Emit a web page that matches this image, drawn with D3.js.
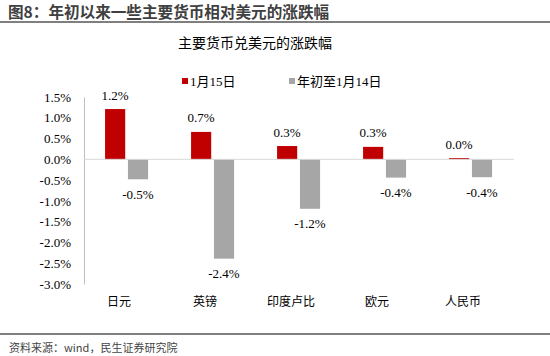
<!DOCTYPE html>
<html><head><meta charset="utf-8">
<script src="https://cdn.jsdelivr.net/npm/d3@7"></script>
<style>body{margin:0;background:#fff}</style>
</head><body>
<svg id="c" width="550" height="356"></svg>
<script>
const categories = ["日元", "英镑", "印度卢比", "欧元", "人民币"];
const seriesNames = ["1月15日", "年初至1月14日"];
const jan15 = [1.21, 0.66, 0.32, 0.30, 0.03];
const ytd = [-0.48, -2.39, -1.19, -0.44, -0.43];
const yTicks = [1.5, 1.0, 0.5, 0.0, -0.5, -1.0, -1.5, -2.0, -2.5, -3.0];
const colors = ["#C00000", "#A6A6A6"];

const svg = d3.select("#c");
const serif = "'Liberation Serif','Times New Roman','Noto Sans CJK SC',serif";
const cjk = "'Noto Sans CJK SC','Liberation Serif',serif";
const pct = d => d3.format(".1f")(d).replace("\u2212", "-") + "%";

// header
svg.append("text").attr("x", 8).attr("y", 18).attr("font-family", "'Noto Sans CJK SC',sans-serif")
  .attr("font-weight", "bold").attr("font-size", 15.6).attr("fill", "#404040")
  .text("图8：年初以来一些主要货币相对美元的涨跌幅");
svg.append("line").attr("x1", 0).attr("x2", 550).attr("y1", 22).attr("y2", 22)
  .attr("stroke", "#555").attr("stroke-width", 1.5);
svg.append("line").attr("x1", 0).attr("x2", 550).attr("y1", 334).attr("y2", 334)
  .attr("stroke", "#555").attr("stroke-width", 1.5);
svg.append("text").attr("x", 9).attr("y", 352).attr("font-family", "'Noto Sans CJK SC',sans-serif")
  .attr("font-size", 11).attr("fill", "#444").text("资料来源：wind，民生证券研究院");

// chart title
svg.append("text").attr("x", 255).attr("y", 48).attr("text-anchor", "middle")
  .attr("font-family", cjk).attr("font-size", 14).attr("fill", "#000").text("主要货币兑美元的涨跌幅");

// legend
const legX = [182, 289];
seriesNames.forEach((s, i) => {
  const g = svg.append("g").attr("transform", `translate(${legX[i]},81)`);
  g.append("rect").attr("x", 0).attr("y", -3).attr("width", 6).attr("height", 6).attr("fill", colors[i]);
  g.append("text").attr("x", 8).attr("y", 5).attr("font-family", serif).attr("font-size", 13)
    .attr("fill", "#000").text(s);
});

const x0 = d3.scaleBand().domain(categories).range([84, 514]);
const x1 = d3.scaleBand().domain(seriesNames)
  .range([x0.bandwidth() * 0.245, x0.bandwidth() * 0.745]).paddingInner(0.12);
const y = d3.scaleLinear().domain([-3, 1.5]).range([284, 97]);

// y axis
const yAxis = d3.axisLeft(y).tickValues(yTicks).tickSize(0).tickPadding(13).tickFormat(pct);
const ga = svg.append("g").attr("transform", "translate(84,0)").call(yAxis);
ga.select(".domain").attr("stroke", "#bfbfbf");
ga.selectAll("text").attr("font-family", serif).attr("font-size", 13).attr("fill", "#000");

const data = categories.map((c, i) => ({c, vals: [jan15[i], ytd[i]]}));
const groups = svg.append("g").selectAll("g").data(data).join("g")
  .attr("transform", d => `translate(${x0(d.c)},0)`);
groups.selectAll("rect").data(d => d.vals.map((v, i) => ({v, s: seriesNames[i], i}))).join("rect")
  .attr("x", d => x1(d.s)).attr("width", x1.bandwidth())
  .attr("y", d => y(Math.max(0, d.v))).attr("height", d => Math.abs(y(d.v) - y(0)))
  .attr("fill", d => colors[d.i]);
groups.selectAll("text.v").data(d => d.vals.map((v, i) => ({v, s: seriesNames[i], i}))).join("text")
  .attr("class", "v")
  .attr("x", d => x1(d.s) + x1.bandwidth() / 2)
  .attr("y", d => d.v >= 0 ? y(d.v) - 14 : y(d.v) + 15)
  .attr("dy", "0.35em").attr("text-anchor", "middle")
  .attr("font-family", serif).attr("font-size", 13).attr("fill", "#000")
  .text(d => pct(d.v));

// zero line
svg.append("line").attr("x1", 84).attr("x2", 514).attr("y1", y(0)).attr("y2", y(0))
  .attr("stroke", "#d9d9d9").attr("stroke-width", 1);

// category labels
const xAxis = d3.axisBottom(x0).tickSize(0).tickPadding(0);
const gx = svg.append("g").attr("transform", "translate(-8,297)").call(xAxis);
gx.select(".domain").remove();
gx.selectAll("text").attr("font-family", cjk).attr("font-size", 12).attr("fill", "#000");
</script>
</body></html>
